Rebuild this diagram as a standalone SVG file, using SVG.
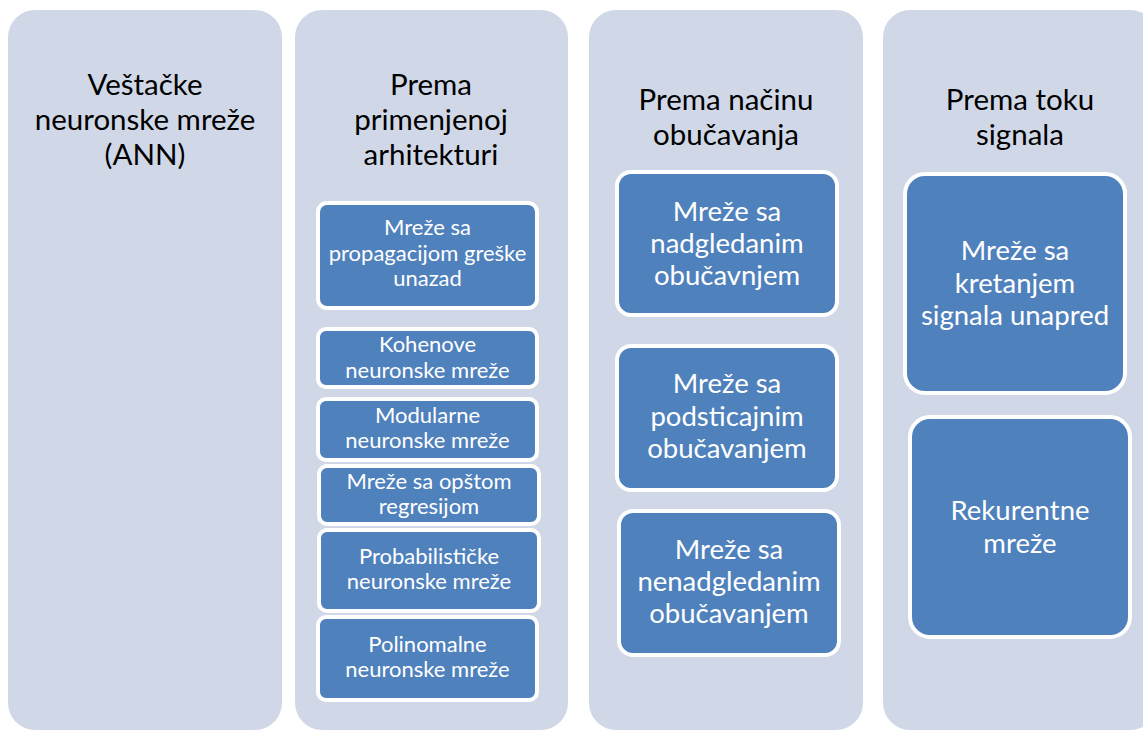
<svg xmlns="http://www.w3.org/2000/svg" width="1143" height="731" viewBox="0 0 1143 731">
<style>
.col{fill:#d0d8e8;}
.box{fill:#4f81bd;stroke:#ffffff;stroke-width:4;}
.t{font-family:Lato,"Liberation Sans",sans-serif;font-size:29.5px;fill:#000000;text-anchor:middle;}
.s{font-family:Lato,"Liberation Sans",sans-serif;font-size:22px;fill:#ffffff;text-anchor:middle;}
.m{font-family:Lato,"Liberation Sans",sans-serif;font-size:27.5px;fill:#ffffff;text-anchor:middle;}
</style>
<rect width="1143" height="731" fill="#ffffff"/>
<g id="col1">
<rect class="col" x="8" y="10" width="274" height="720" rx="27"/>
<text class="t" x="145" y="95">Veštačke</text>
<text class="t" x="145" y="130">neuronske mreže</text>
<text class="t" x="145" y="165">(ANN)</text>
</g>
<g id="col2">
<rect class="col" x="295" y="10" width="273" height="720" rx="27"/>
<text class="t" x="431" y="95">Prema</text>
<text class="t" x="431" y="130">primenjenoj</text>
<text class="t" x="431" y="165">arhitekturi</text>
</g>
<g id="col3">
<rect class="col" x="589" y="10" width="274" height="720" rx="27"/>
<text class="t" x="726" y="110">Prema načinu</text>
<text class="t" x="726" y="145">obučavanja</text>
</g>
<g id="col4">
<rect class="col" x="883" y="10" width="274" height="720" rx="27"/>
<text class="t" x="1020" y="110">Prema toku</text>
<text class="t" x="1020" y="145">signala</text>
</g>
<g id="a1">
<rect class="box" x="318" y="203" width="219" height="105" rx="9"/>
<text class="s" x="427.5" y="235">Mreže sa</text>
<text class="s" x="427.5" y="261">propagacijom greške</text>
<text class="s" x="427.5" y="286">unazad</text>
</g>
<g id="a2">
<rect class="box" x="318" y="329" width="219" height="58" rx="8"/>
<text class="s" x="427.5" y="352">Kohenove</text>
<text class="s" x="427.5" y="378">neuronske mreže</text>
</g>
<g id="a3">
<rect class="box" x="318" y="399" width="219" height="61" rx="8"/>
<text class="s" x="427.5" y="423">Modularne</text>
<text class="s" x="427.5" y="448">neuronske mreže</text>
</g>
<g id="a4">
<rect class="box" x="319" y="466" width="220" height="58" rx="8"/>
<text class="s" x="429" y="489">Mreže sa opštom</text>
<text class="s" x="429" y="514">regresijom</text>
</g>
<g id="a5">
<rect class="box" x="319" y="530" width="220" height="81" rx="8"/>
<text class="s" x="429" y="564">Probabilističke</text>
<text class="s" x="429" y="589">neuronske mreže</text>
</g>
<g id="a6">
<rect class="box" x="318" y="617" width="219" height="83" rx="8"/>
<text class="s" x="427.5" y="652">Polinomalne</text>
<text class="s" x="427.5" y="677">neuronske mreže</text>
</g>
<g id="b1">
<rect class="box" x="617" y="172" width="220" height="143" rx="14"/>
<text class="m" x="727" y="221">Mreže sa</text>
<text class="m" x="727" y="253">nadgledanim</text>
<text class="m" x="727" y="285">obučavnjem</text>
</g>
<g id="b2">
<rect class="box" x="617" y="346" width="220" height="144" rx="14"/>
<text class="m" x="727" y="393">Mreže sa</text>
<text class="m" x="727" y="426">podsticajnim</text>
<text class="m" x="727" y="458">obučavanjem</text>
</g>
<g id="b3">
<rect class="box" x="619" y="511" width="220" height="144" rx="14"/>
<text class="m" x="729" y="559">Mreže sa</text>
<text class="m" x="729" y="591">nenadgledanim</text>
<text class="m" x="729" y="623">obučavanjem</text>
</g>
<g id="c1">
<rect class="box" x="905" y="174" width="220" height="219" rx="20"/>
<text class="m" x="1015" y="260">Mreže sa</text>
<text class="m" x="1015" y="293">kretanjem</text>
<text class="m" x="1015" y="325">signala unapred</text>
</g>
<g id="c2">
<rect class="box" x="910" y="417" width="220" height="220" rx="20"/>
<text class="m" x="1020" y="520">Rekurentne</text>
<text class="m" x="1020" y="553">mreže</text>
</g>
<g id="connectors"/>
</svg>
